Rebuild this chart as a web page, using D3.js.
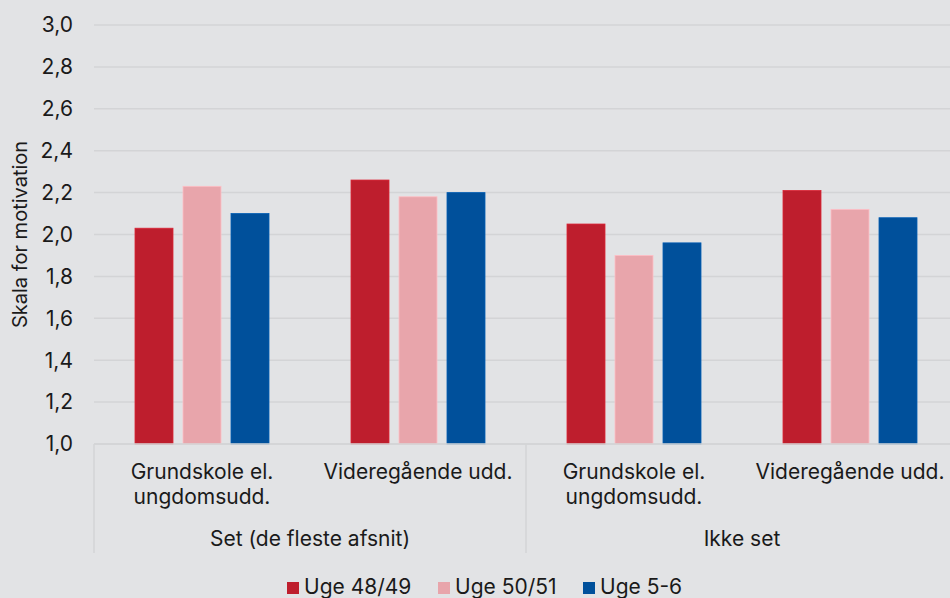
<!DOCTYPE html>
<html>
<head>
<meta charset="utf-8">
<script src="https://cdn.jsdelivr.net/npm/d3@7"></script>
<style>
  body { margin: 0; background: #e2e3e5; }
  svg { display: block; font-family: Inter, "Noto Sans", sans-serif; }
</style>
</head>
<body>
<svg id="chart" width="950" height="598"></svg>
<script>
// chart data
let groups = ["Set (de fleste afsnit)", "Ikke set"];
let categories = ["Grundskole el.|ungdomsudd.", "Videregående udd.", "Grundskole el.|ungdomsudd.", "Videregående udd."];
let seriesNames = ["Uge 48/49", "Uge 50/51", "Uge 5-6"];
let uge4849 = [2.03, 2.26, 2.05, 2.21];
let uge5051 = [2.23, 2.18, 1.90, 2.12];
let uge56 = [2.10, 2.20, 1.96, 2.08];
let yTicks = [1.0, 1.2, 1.4, 1.6, 1.8, 2.0, 2.2, 2.4, 2.6, 2.8, 3.0];

let colours = ["#be1e2d", "#e8a5ab", "#00509b"];
let series = [uge4849, uge5051, uge56];

let svg = d3.select("#chart");
let width = 950, height = 598;

svg.append("rect").attr("width", width).attr("height", height).attr("fill", "#e2e3e5");

// plot area runs a little past the right edge, like in the original
let plotLeft = 94, plotRight = 958, plotTop = 25, plotBottom = 444;

let x = d3.scaleBand()
  .domain(d3.range(categories.length))
  .range([plotLeft, plotRight])
  .paddingInner(0)
  .paddingOuter(0);

let xInner = d3.scaleBand()
  .domain(d3.range(seriesNames.length))
  .range([0, 134])
  .paddingInner(10 / 48)
  .paddingOuter(0);

let y = d3.scaleLinear().domain([1, 3]).range([plotBottom, plotTop]);

// gridlines
svg.append("g")
  .selectAll("line")
  .data(yTicks)
  .join("line")
  .attr("x1", plotLeft)
  .attr("x2", width)
  .attr("y1", d => y(d))
  .attr("y2", d => y(d))
  .attr("stroke", "#d3d4d6")
  .attr("stroke-width", 1.5);

// y tick labels
let fmt = d => d3.format(".1f")(d).replace(".", ",");
svg.append("g")
  .selectAll("text")
  .data(yTicks)
  .join("text")
  .attr("x", 73)
  .attr("y", d => y(d))
  .attr("dy", "0.35em")
  .attr("text-anchor", "end")
  .attr("font-size", 21)
  .attr("fill", "#1a1a1a")
  .text(fmt);

// y axis title
svg.append("text")
  .attr("transform", "translate(27," + ((plotTop + plotBottom) / 2) + ") rotate(-90)")
  .attr("text-anchor", "middle")
  .attr("font-size", 20)
  .attr("fill", "#1a1a1a")
  .text("Skala for motivation");

// bars
let barG = svg.append("g");
series.forEach(function (vals, si) {
  barG.selectAll(".s" + si)
    .data(vals)
    .join("rect")
    .attr("class", "s" + si)
    .attr("x", (d, i) => x(i) + (x.bandwidth() - 134) / 2 + xInner(si))
    .attr("width", xInner.bandwidth())
    .attr("y", d => y(d))
    .attr("height", d => y(1) - y(d))
    .attr("fill", colours[si])
    .attr("stroke", d3.color(colours[si]).brighter(0.4))
    .attr("stroke-width", 0.8);
});

// category axis lines
svg.append("line")
  .attr("x1", plotLeft).attr("x2", width)
  .attr("y1", plotBottom).attr("y2", plotBottom)
  .attr("stroke", "#d3d4d6").attr("stroke-width", 1.5);

let groupEdges = [0, 2];
svg.append("g")
  .selectAll("line")
  .data(groupEdges)
  .join("line")
  .attr("x1", d => x(d))
  .attr("x2", d => x(d))
  .attr("y1", plotBottom)
  .attr("y2", 553)
  .attr("stroke", "#d3d4d6")
  .attr("stroke-width", 1.5);

// category labels
let catG = svg.append("g");
categories.forEach(function (c, i) {
  let lines = c.split("|");
  let t = catG.append("text")
    .attr("text-anchor", "middle")
    .attr("font-size", 21)
    .attr("fill", "#1a1a1a");
  lines.forEach(function (ln, k) {
    t.append("tspan")
      .attr("x", x(i) + x.bandwidth() / 2)
      .attr("y", 479 + k * 25)
      .text(ln);
  });
});

// group labels
groups.forEach(function (g, gi) {
  let x0 = x(gi * 2), x1 = x(gi * 2 + 1) + x.bandwidth();
  svg.append("text")
    .attr("x", (x0 + x1) / 2)
    .attr("y", 546)
    .attr("text-anchor", "middle")
    .attr("font-size", 21)
    .attr("fill", "#1a1a1a")
    .text(g);
});

// legend
let legendX = [287, 438, 583];
let legend = svg.append("g")
  .selectAll("g")
  .data(seriesNames)
  .join("g")
  .attr("transform", (d, i) => "translate(" + legendX[i] + ",582)");

legend.append("rect")
  .attr("width", 12)
  .attr("height", 12)
  .attr("fill", (d, i) => colours[i]);

legend.append("text")
  .attr("x", 17)
  .attr("y", 12)
  .attr("font-size", 21)
  .attr("fill", "#1a1a1a")
  .text(d => d);
</script>
</body>
</html>
